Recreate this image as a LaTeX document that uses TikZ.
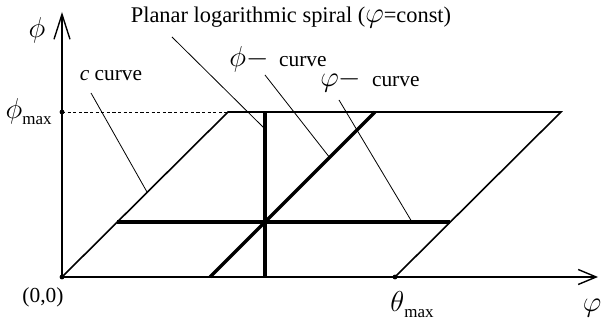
\documentclass[tikz,border=0pt]{standalone}
\usepackage{fontspec}
\setmainfont{Liberation Serif}
\usetikzlibrary{arrows.meta}

\newcommand{\bigsym}[1]{{\fontsize{13.5}{14}\selectfont$#1$}}

\begin{document}
\begin{tikzpicture}[x=0.5pt, y=0.5pt, font=\fontsize{10.7}{12}\selectfont,
    axis/.style={line width=0.7pt},
    edge/.style={line width=0.8pt},
    curve/.style={line width=1.6pt},
    leader/.style={line width=0.4pt},
    dot/.style={circle, fill, inner sep=0pt, minimum size=2.4pt}]
    \useasboundingbox (0,0) rectangle (606,320);

    % axes and corners of the domain
    \coordinate (O) at (62,43);
    \coordinate (ytop) at (62,308);
    \coordinate (xend) at (598,43);
    \coordinate (pmax) at (62,208);
    \coordinate (tl) at (228,208);
    \coordinate (tr) at (561,208);
    \coordinate (tmax) at (395,43);

    \draw[axis, -{Straight Barb[length=12.5pt, width=8pt]}] (O) -- (ytop);
    \draw[axis, -{Straight Barb[length=9pt, width=7.5pt]}] (O) -- (xend);
    \draw[leader, dash pattern=on 1.6pt off 1.2pt] (pmax) -- (tl);
    \draw[edge] (O) -- (tl) -- (tr) -- (tmax);
    \node[dot] (o) at (O) {};
    \node[dot] (pm) at (pmax) {};
    \node[dot] (tm) at (tmax) {};

    % the three curves through one point
    \coordinate (vb) at (265,43);
    \coordinate (vt) at (265,208);
    \coordinate (hl) at (117,98);
    \coordinate (hr) at (450,98);
    \coordinate (db) at (210,43);
    \coordinate (dt) at (375,208);
    \draw[curve] (vb) -- (vt);
    \draw[curve] (hl) -- (hr);
    \draw[curve] (db) -- (dt);

    % labels
    \node (phiax) at (37,290) {\bigsym{\phi}};
    \node[anchor=east, inner sep=1pt] (phimax) at (54,208) {\bigsym{\phi}\raisebox{-3pt}{\fontsize{8.5}{9}\selectfont max}};
    \node (zero) at (43,23) {(0,0)};
    \node (thmax) at (412,15) {\bigsym{\theta}\raisebox{-3pt}{\fontsize{8.5}{9}\selectfont max}};
    \node (phix) at (592,12) {\bigsym{\varphi}};
    \node[font=\fontsize{11.2}{13}\selectfont] (spiral) at (291,302) {Planar logarithmic spiral (\bigsym{\varphi}=const)};
    \node (ccurve) at (111,244) {\textit{c} curve};
    \node (phicurve) at (278,261) {\bigsym{\phi -}\ \ curve};
    \node (vphicurve) at (370,239) {\bigsym{\varphi -}\ \ curve};

    % leaders
    \coordinate (s1) at (172,283);
    \coordinate (s2) at (264,192);
    \coordinate (c1) at (91,227);
    \coordinate (c2) at (147,128);
    \coordinate (p1) at (265,245);
    \coordinate (p2) at (330,162);
    \coordinate (q1) at (339,220);
    \coordinate (q2) at (412,98);
    \draw[leader] (s1) -- (s2);
    \draw[leader] (c1) -- (c2);
    \draw[leader] (p1) -- (p2);
    \draw[leader] (q1) -- (q2);
\end{tikzpicture}
\end{document}
